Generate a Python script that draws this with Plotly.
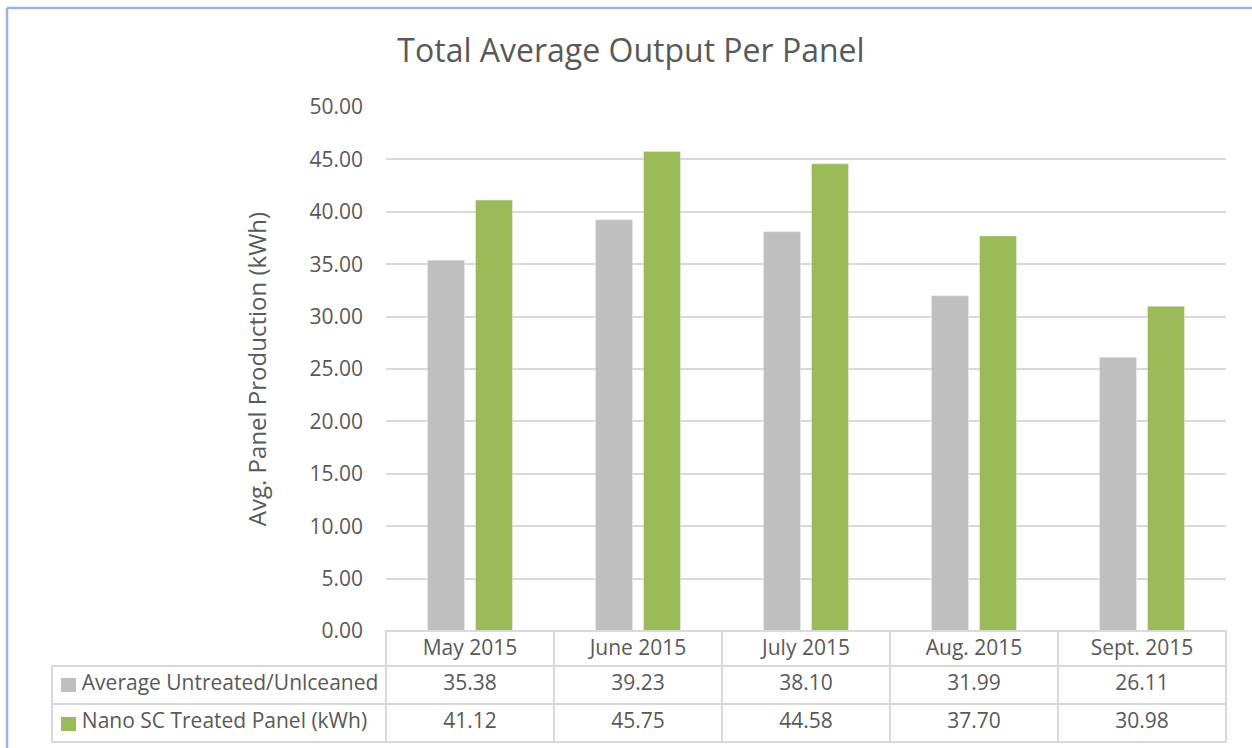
import plotly.graph_objects as go

months = ["May 2015", "June 2015", "July 2015", "Aug. 2015", "Sept. 2015"]
series_names = ["Average Untreated/Unlceaned", "Nano SC Treated Panel (kWh)"]
untreated = [35.38, 39.23, 38.10, 31.99, 26.11]
treated = [41.12, 45.75, 44.58, 37.70, 30.98]
y_ticks = [0, 5, 10, 15, 20, 25, 30, 35, 40, 45, 50]

GRAY = "#BFBFBF"
GREEN = "#9BBB59"
TXT = "#595959"
GRID = "#D9D9D9"
BORDER = "#9AB7DB"
FONT = "Open Sans"

W, H = 1252, 748

def px_x(p):
    return p / W

def px_y(p):
    return (H - p) / H

def fmt(v):
    return f"{v:.2f}"

fig = go.Figure()
fig.add_trace(go.Bar(x=months, y=untreated, name=series_names[0], marker_color=GRAY,
                     showlegend=False))
fig.add_trace(go.Bar(x=months, y=treated, name=series_names[1], marker_color=GREEN,
                     showlegend=False))

NBSP = "\u00a0"
INDENT = NBSP * 4
# non-breaking spaces keep each label on one line inside its cell
legend_labels = [INDENT + n.replace(" ", NBSP) for n in series_names]
cols = [legend_labels] + [[fmt(u), fmt(t)] for u, t in zip(untreated, treated)]

fig.add_trace(go.Table(
    domain=dict(x=[px_x(52), px_x(1226)], y=[px_y(745), px_y(631)]),
    columnwidth=[334, 168, 168, 168, 168, 168],
    header=dict(values=[""] + months,
                fill=dict(color=["rgba(0,0,0,0)"] + ["white"] * 5),
                line=dict(color=["rgba(0,0,0,0)"] + [GRID] * 5, width=2),
                align="center", height=35,
                font=dict(family=FONT, size=21, color=TXT)),
    cells=dict(values=cols,
               fill=dict(color="white"),
               line=dict(color=GRID, width=2),
               align=["left"] + ["center"] * 5, height=38,
               font=dict(family=FONT, size=21, color=TXT)),
))

# legend keys inside the table's first column
key_colors = [GRAY, GREEN]
key_rows_y = [685, 723.5]
annotations = [
    dict(text=" ", xref="paper", yref="paper", x=px_x(68.5), y=px_y(yy),
         xanchor="center", yanchor="middle", showarrow=False,
         width=15, height=14, bgcolor=c, borderpad=0, borderwidth=0)
    for c, yy in zip(key_colors, key_rows_y)
]

fig.update_layout(
    width=W, height=H, autosize=False,
    margin=dict(l=0, r=0, t=0, b=0, autoexpand=False),
    paper_bgcolor="white", plot_bgcolor="white",
    barmode="group", bargap=0.4286, bargroupgap=0.229,
    font=dict(family=FONT, color=TXT),
    title=dict(text="Total Average Output Per Panel", x=px_x(631), y=px_y(51),
               xanchor="center", yanchor="middle", xref="paper", yref="paper",
               font=dict(family=FONT, size=32, color=TXT)),
    xaxis=dict(domain=[px_x(386), px_x(1226)], showticklabels=False, showgrid=False,
               showline=False, zeroline=False, ticks="", automargin=False),
    yaxis=dict(domain=[px_y(631), px_y(107)], range=[0, 50], tickvals=y_ticks,
               ticktext=[fmt(v) for v in y_ticks], showgrid=True, gridcolor=GRID,
               gridwidth=2, zeroline=False, showline=False, ticks="",
               ticklabelstandoff=22, automargin=False,
               tickfont=dict(family=FONT, size=21, color=TXT),
               title=dict(text="Avg. Panel Production (kWh)", standoff=36,
                          font=dict(family=FONT, size=24, color=TXT))),
    annotations=annotations,
    shapes=[
        dict(type="line", xref="paper", yref="paper", x0=px_x(7), x1=px_x(7),
             y0=px_y(8), y1=0, line=dict(color=BORDER, width=2.5)),
        dict(type="line", xref="paper", yref="paper", x0=px_x(7), x1=1,
             y0=px_y(8), y1=px_y(8), line=dict(color=BORDER, width=2.5)),
    ],
)

fig.write_html("out.html", config={"displayModeBar": False},
               post_script="document.body.style.margin='0';")
